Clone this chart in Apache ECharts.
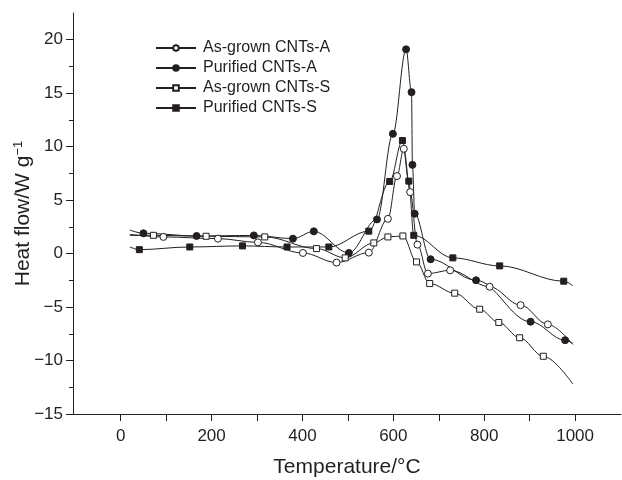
<!DOCTYPE html>
<html>
<head>
<meta charset="utf-8">
<script src="https://cdn.jsdelivr.net/npm/echarts@6/dist/echarts.min.js"></script>
<style>
	html, body { margin: 0; padding: 0; background: #fff; }
	#chart { width: 622px; height: 480px; }
</style>
</head>
<body>
<div id="chart"></div>
<script>
// Series data (temperature in °C, heat flow in W/g)
const seriesNames = [ 'As-grown CNTs-A', 'Purified CNTs-A', 'As-grown CNTs-S', 'Purified CNTs-S' ];

const asGrownA_T = [ 20, 94, 214, 302, 401, 475, 546, 588, 608, 623, 637, 653, 676, 725, 812, 880, 940, 995 ];
const asGrownA_V = [ 1.8, 1.56, 1.4, 1.05, 0.06, -0.84, 0.09, 3.25, 7.25, 9.8, 5.75, 0.84, -1.87, -1.56, -3.1, -4.82, -6.62, -8.5 ];

const purifiedA_T = [ 20, 50, 167, 293, 379, 425, 502, 564, 599, 628, 640, 642, 647, 682, 782, 902, 978, 995 ];
const purifiedA_V = [ 2.2, 1.9, 1.65, 1.7, 1.4, 2.08, 0.06, 3.2, 11.2, 19.1, 15.1, 8.3, 3.73, -0.53, -2.49, -6.37, -8.1, -8.4 ];

const asGrownS_T = [ 20, 72, 188, 317, 431, 494, 557, 588, 621, 651, 680, 735, 790, 832, 878, 930, 995 ];
const asGrownS_V = [ 1.7, 1.71, 1.62, 1.56, 0.47, -0.4, 1.0, 1.56, 1.65, -0.78, -2.8, -3.7, -5.2, -6.44, -7.87, -9.6, -12.2 ];

const purifiedS_T = [ 20, 41, 152, 268, 366, 458, 546, 592, 620, 634, 645, 731, 834, 975, 995 ];
const purifiedS_V = [ 0.62, 0.37, 0.62, 0.72, 0.62, 0.62, 2.1, 6.75, 10.57, 6.78, 1.71, -0.4, -1.15, -2.58, -3.0 ];

// first and last points only carry the line, no marker
const bareA = [ 0, 17 ];
const barePA = [ 0, 17 ];
const bareS = [ 0, 16 ];
const barePS = [ 0, 14 ];

const xTicks = [ 0, 100, 200, 300, 400, 500, 600, 700, 800, 900, 1000 ];
const xLabels = [ 0, 200, 400, 600, 800, 1000 ];
const yMajor = [ -15, -10, -5, 0, 5, 10, 15, 20 ];
const yMinor = [ -12.5, -7.5, -2.5, 2.5, 7.5, 12.5, 17.5 ];

const ink = '#231f20';
const font = 'Liberation Sans, Arial, sans-serif';

const toPoints = ( ts, vs, bare ) => ts.map( ( t, i ) => {
	const item = { value: [ t, vs[ i ] ] };
	if ( bare.includes( i ) ) {
		item.symbol = 'none';
	}
	return item;
} );

const makeSeries = ( name, points, symbol, filled, size ) => ( {
	name,
	type: 'line',
	data: points,
	smooth: 0.35,
	smoothMonotone: 'x',
	symbol,
	symbolSize: size,
	showAllSymbol: true,
	lineStyle: { color: ink, width: 1 },
	itemStyle: {
		color: filled ? ink : '#fff',
		borderColor: ink,
		borderWidth: 1
	},
	emphasis: { disabled: true }
} );

const chart = echarts.init( document.getElementById( 'chart' ), null, { renderer: 'canvas' } );

chart.setOption( {
	animation: false,
	backgroundColor: '#fff',
	textStyle: { fontFamily: font, color: ink },
	grid: { left: 73, top: 13, right: 1, bottom: 66, containLabel: false, outerBoundsMode: 'none' },
	legend: {
		orient: 'vertical',
		left: 150,
		top: 35,
		itemWidth: 40,
		itemHeight: 7,
		itemGap: 4,
		textStyle: { fontSize: 16, lineHeight: 16, color: ink, fontFamily: font, padding: [ 0, 0, 0, 2 ] },
		data: seriesNames
	},
	xAxis: {
		type: 'value',
		min: -105,
		max: 1101,
		name: 'Temperature/°C',
		nameLocation: 'middle',
		nameGap: 43,
		nameMoveOverlap: false,
		nameTextStyle: { fontSize: 21, color: ink, fontFamily: font },
		axisLine: { onZero: false, lineStyle: { color: ink, width: 1 } },
		axisTick: { customValues: xTicks, length: 7, lineStyle: { color: ink } },
		axisLabel: {
			customValues: xLabels,
			fontSize: 17,
			color: ink,
			margin: 14,
			fontFamily: font,
			formatter: ( v ) => String( v )
		},
		splitLine: { show: false }
	},
	yAxis: [ {
		type: 'value',
		min: -15,
		max: 22.5,
		name: 'Heat flow/W g{sup|−1}',
		nameLocation: 'middle',
		nameGap: 38,
		nameMoveOverlap: false,
		nameTextStyle: {
			fontSize: 21,
			color: ink,
			fontFamily: font,
			rich: {
				sup: { fontSize: 13, color: ink, fontFamily: font, padding: [ 0, 0, 10, 0 ] }
			}
		},
		axisLine: { show: true, onZero: false, lineStyle: { color: ink, width: 1 } },
		axisTick: { customValues: yMajor, length: 7, lineStyle: { color: ink } },
		axisLabel: {
			customValues: yMajor,
			fontSize: 17,
			color: ink,
			margin: 10,
			fontFamily: font,
			formatter: ( v ) => ( v < 0 ? '−' + Math.abs( v ) : String( v ) )
		},
		splitLine: { show: false }
	}, {
		type: 'value',
		min: -15,
		max: 22.5,
		position: 'left',
		axisLine: { show: false, onZero: false },
		axisTick: { customValues: yMinor, length: 4, lineStyle: { color: ink } },
		axisLabel: { show: false },
		splitLine: { show: false }
	} ],
	series: [
		makeSeries( seriesNames[ 0 ], toPoints( asGrownA_T, asGrownA_V, bareA ), 'circle', false, 7 ),
		makeSeries( seriesNames[ 1 ], toPoints( purifiedA_T, purifiedA_V, barePA ), 'circle', true, 7 ),
		makeSeries( seriesNames[ 2 ], toPoints( asGrownS_T, asGrownS_V, bareS ), 'rect', false, 6 ),
		makeSeries( seriesNames[ 3 ], toPoints( purifiedS_T, purifiedS_V, barePS ), 'rect', true, 6 )
	]
} );
</script>
</body>
</html>
